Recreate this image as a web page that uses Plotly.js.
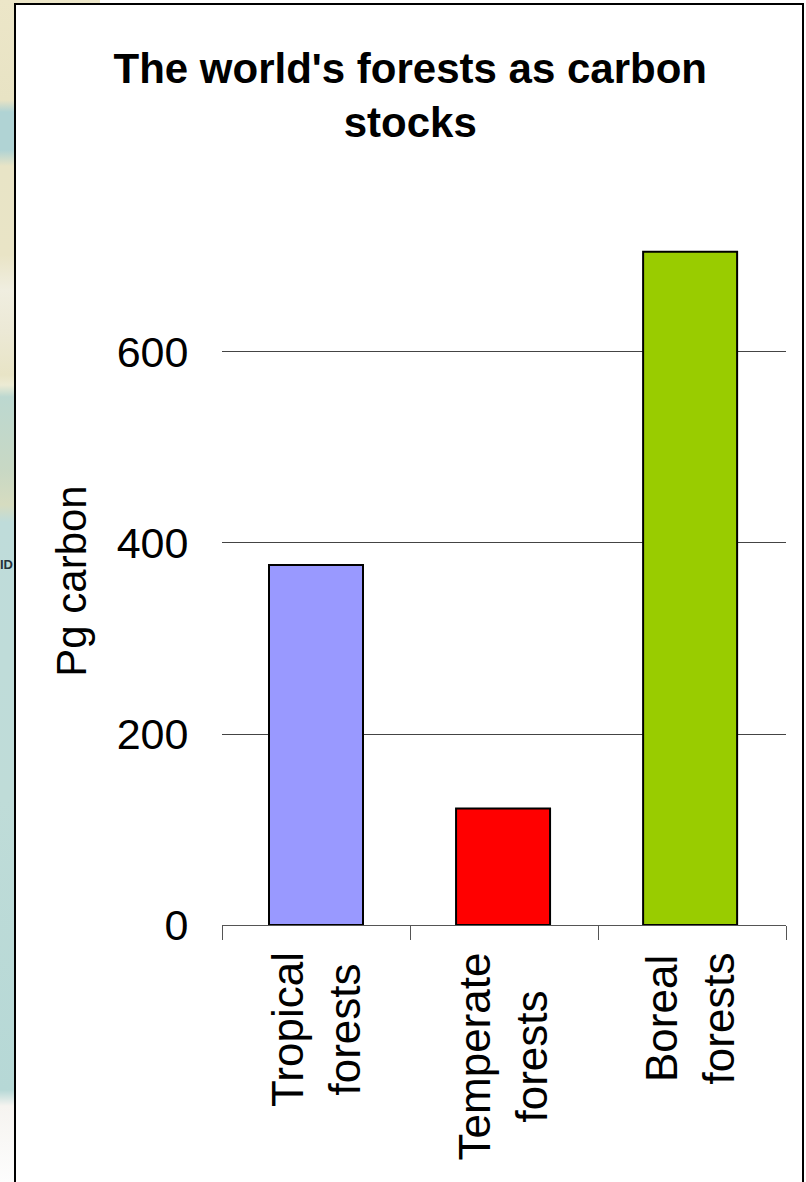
<!DOCTYPE html>
<html>
<head>
<meta charset="utf-8">
<script src="https://cdn.plot.ly/plotly-3.0.1.min.js"></script>
<style>
html,body{margin:0;padding:0;width:806px;height:1182px;overflow:hidden}
body{background:
  linear-gradient(#ffffff,#ffffff) 100px 0/706px 4px no-repeat,
  linear-gradient(90deg,rgba(255,255,255,0) 803px,#ffffff 803px),
  linear-gradient(180deg,#ece6c8 0,#e8e3c4 100px,#b0d3d4 112px,#b0d3d4 150px,#e8e4c6 166px,#e9e4c6 255px,#f0eee0 290px,#ece9d6 330px,#e8e4c6 375px,#ecebd4 385px,#bcd8d0 397px,#c8d8c4 470px,#d6dcc0 505px,#bfdcda 522px,#bfdcd8 800px,#b6d8d6 1090px,#f6f4f0 1106px,#fdfdfd 1182px)}
#chart{position:absolute;left:0;top:0;width:806px;height:1182px}
</style>
</head>
<body>
<div id="chart"></div>
<script>
const categories = ["Tropical<br>forests", "Temperate<br>forests", "Boreal<br>forests"];
const carbonStocks = [377, 122, 705];
const barColors = ["#9999FF", "#FF0000", "#99CC00"];
const yTicks = [0, 200, 400, 600];
const chartTitle = "The world's forests as carbon<br>stocks";
const yTitle = "Pg carbon";
const fontFamily = '"Liberation Sans", Arial, sans-serif';

const trace = {
  type: "bar",
  x: categories,
  y: carbonStocks,
  width: 0.5,
  offset: [-0.25, -0.255, -0.26],
  marker: {color: barColors, line: {color: "#000000", width: 2}},
  hoverinfo: "x+y"
};

const labelAnnotations = categories.map(function (c, i) {
  return {
    xref: "x", yref: "paper", x: c, y: -0.037,
    xshift: -i,
    text: c, showarrow: false, textangle: -90,
    xanchor: "center", yanchor: "top", align: "center",
    font: {family: fontFamily, size: 44, color: "#000"}
  };
});

const layout = {
  width: 806, height: 1182,
  margin: {l: 222, r: 20, t: 237, b: 257, pad: 0},
  paper_bgcolor: "rgba(0,0,0,0)",
  plot_bgcolor: "rgba(0,0,0,0)",
  showlegend: false,
  font: {family: fontFamily, color: "#000"},
  title: {
    text: "<b>" + chartTitle + "</b>",
    x: 0.509, xanchor: "center", xref: "container",
    y: 0.93, yanchor: "top", yref: "container",
    font: {family: fontFamily, size: 42, color: "#000"}
  },
  xaxis: {
    type: "category",
    tickmode: "array", tickvals: categories,
    showticklabels: false,
    ticks: "outside", ticklen: 14, tickwidth: 1, tickcolor: "#555",
    tickson: "boundaries",
    showline: true, linecolor: "#555", linewidth: 1,
    showgrid: false, zeroline: false
  },
  yaxis: {
    range: [0, 720.4],
    tickmode: "array", tickvals: yTicks,
    ticks: "outside", ticklen: 24, tickcolor: "rgba(0,0,0,0)", tickwidth: 1,
    tickfont: {family: fontFamily, size: 43, color: "#000"},
    showgrid: true, gridcolor: "#444", gridwidth: 1,
    zeroline: false, showline: false,
    title: {text: yTitle, standoff: 16, font: {family: fontFamily, size: 42, color: "#000"}}
  },
  shapes: [{
    type: "rect", layer: "below",
    xref: "paper", yref: "paper",
    x0: -207 / 564, x1: 581 / 564, y0: -300 / 688, y1: 921 / 688,
    fillcolor: "#ffffff",
    line: {color: "#000000", width: 2}
  }],
  annotations: labelAnnotations.concat([{
    xref: "paper", yref: "paper",
    x: -207 / 564, xanchor: "right",
    y: 361 / 688, yanchor: "middle",
    text: "<b>ID</b>", showarrow: false,
    font: {family: fontFamily, size: 13, color: "#26323a"}
  }])
};

Plotly.newPlot("chart", [trace], layout, {displayModeBar: false, staticPlot: true});
</script>
</body>
</html>
